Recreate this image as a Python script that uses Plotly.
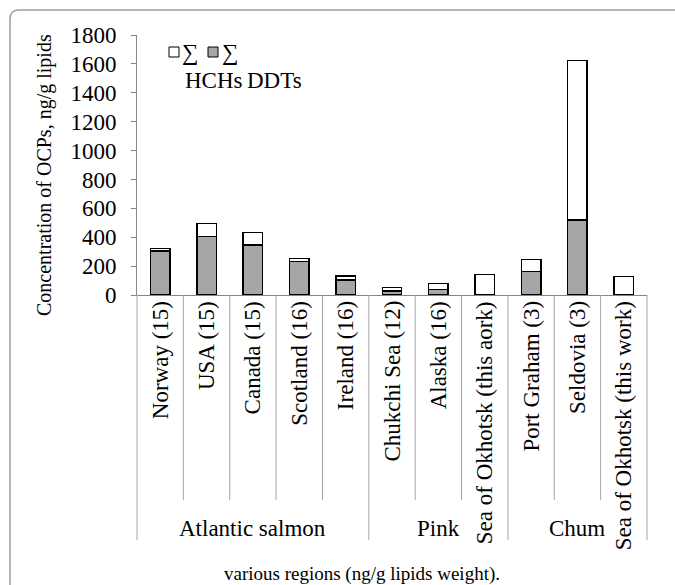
import plotly.graph_objects as go

# ---- data ----
categories = ["Norway (15)", "USA (15)", "Canada (15)", "Scotland (16)", "Ireland (16)",
              "Chukchi Sea (12)", "Alaska (16)", "Sea of Okhotsk (this aork)",
              "Port Graham (3)", "Seldovia (3)", "Sea of Okhotsk (this work)"]
group_names = ["Atlantic salmon", "Pink", "Chum"]
group_sizes = [5, 3, 3]
ddts = [305, 404, 346, 231, 104, 27, 39, 5, 161, 519, 4]
hchs = [18, 92, 85, 23, 28, 26, 42, 138, 86, 1103, 123]
y_ticks = [0, 200, 400, 600, 800, 1000, 1200, 1400, 1600, 1800]

FONT = "Liberation Serif"
FS = 23
W, H = 675, 585
L, R, T, B = 137, 647, 35, 295  # plot area in pixels


def px(x):
    return (x - L) / (R - L)


def py(y):
    return (B - y) / (B - T)


fig = go.Figure()
fig.add_trace(go.Bar(x=categories, y=ddts, name="∑ DDTs",
                     marker=dict(color="#a6a6a6", line=dict(color="black", width=1.5)),
                     showlegend=False))
fig.add_trace(go.Bar(x=categories, y=hchs, name="∑ HCHs",
                     marker=dict(color="white", line=dict(color="black", width=1.5)),
                     showlegend=False))

shapes = []
annotations = []
n = len(categories)
# divider lines under the axis
boundaries = [0]
for s in group_sizes:
    boundaries.append(boundaries[-1] + s)
for i in range(n + 1):
    xf = i / n
    bottom = 540 if i in boundaries else 500
    shapes.append(dict(type="line", xref="paper", yref="paper", x0=xf, x1=xf,
                       y0=py(295), y1=py(bottom), line=dict(color="#a6a6a6", width=1)))

# inner category labels
for c in categories:
    annotations.append(dict(x=c, xref="x", y=py(299), yref="paper", text=c,
                            textangle=-90, xanchor="center", yanchor="top",
                            showarrow=False, font=dict(family=FONT, size=FS, color="black")))
# group labels
start = 0
for g, s in zip(group_names, group_sizes):
    mid = start + (s - 1) / 2
    annotations.append(dict(x=mid, xref="x", y=py(528), yref="paper", text=g,
                            xanchor="center", yanchor="middle", showarrow=False,
                            font=dict(family=FONT, size=FS, color="black")))
    start += s

# y title
annotations.append(dict(x=px(44), xref="paper", y=py(175), yref="paper",
                        text="Concentration of OCPs, ng/g lipids", textangle=-90,
                        xanchor="center", yanchor="middle", showarrow=False,
                        font=dict(family=FONT, size=20, color="black")))
# caption
annotations.append(dict(x=px(362), xref="paper", y=py(574), yref="paper",
                        text="various regions (ng/g lipids weight).",
                        xanchor="center", yanchor="middle", showarrow=False,
                        font=dict(family=FONT, size=19, color="black")))

# legend (manual)
for (x0, fill) in [(169, "white"), (208, "#a6a6a6")]:
    shapes.append(dict(type="rect", xref="paper", yref="paper",
                       x0=px(x0), x1=px(x0 + 10), y0=py(57), y1=py(47),
                       fillcolor=fill, line=dict(color="black", width=1)))
for (x, t, y) in [(180, "∑", 52), (220, "∑", 52), (183, "HCHs", 80), (245, "DDTs", 80)]:
    annotations.append(dict(x=px(x), xref="paper", y=py(y), yref="paper", text=t,
                            xanchor="left", yanchor="middle", showarrow=False,
                            font=dict(family=FONT, size=FS, color="black")))

# outer rounded border
border = (f"M {px(10)},{py(600)} L {px(10)},{py(19)} "
          f"Q {px(10)},{py(10)} {px(19)},{py(10)} L {px(700)},{py(10)}")
shapes.append(dict(type="path", xref="paper", yref="paper", path=border,
                   line=dict(color="#a0a0a0", width=1.5)))

fig.update_layout(
    width=W, height=H,
    margin=dict(l=L, r=W - R, t=T, b=H - B),
    barmode="stack", bargap=0.58,
    plot_bgcolor="white", paper_bgcolor="white",
    font=dict(family=FONT, size=FS, color="black"),
    shapes=shapes, annotations=annotations,
    xaxis=dict(type="category", showticklabels=False, ticks="", showgrid=False,
               showline=True, linecolor="#868686", linewidth=1, zeroline=False,
               categoryorder="array", categoryarray=categories),
    yaxis=dict(range=[0, 1800], tickvals=y_ticks, ticktext=[str(v) for v in y_ticks],
               showgrid=False, zeroline=False, showline=True, linecolor="#868686",
               linewidth=1, ticks="outside", ticklen=5, tickcolor="#868686",
               ticklabelstandoff=10,
               tickfont=dict(family=FONT, size=FS, color="black")),
)

fig.write_html("out.html", config={"displayModeBar": False},
               post_script="document.body.style.margin='0';document.body.style.overflow='hidden';")
